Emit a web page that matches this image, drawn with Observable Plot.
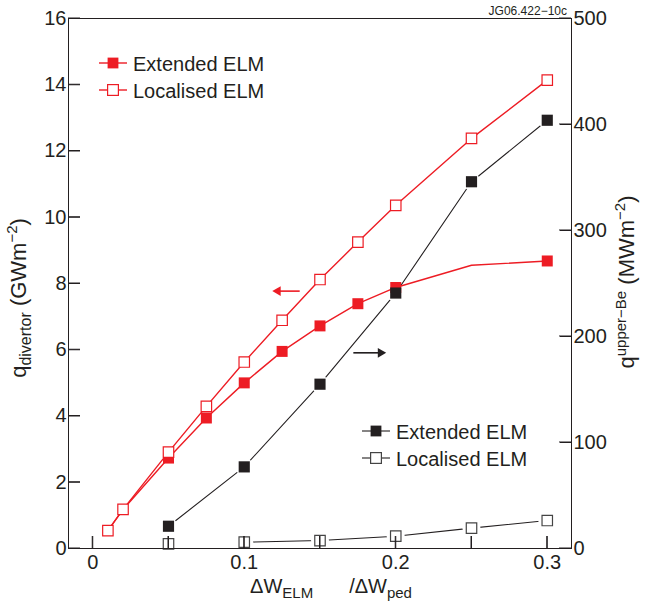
<!DOCTYPE html>
<html><head><meta charset="utf-8">
<script src="https://cdn.jsdelivr.net/npm/d3@7"></script>
<script src="https://cdn.jsdelivr.net/npm/@observablehq/plot@0.6"></script>
<style>body{margin:0;background:#fff} svg{display:block}</style>
</head><body><div id="chart"></div>
<script>
// ---- data ----
const xRed = [0.01, 0.02, 0.05, 0.075, 0.1, 0.125, 0.15, 0.175, 0.2, 0.25, 0.3];
const redLocalised = [0.54, 1.18, 2.91, 4.29, 5.63, 6.89, 8.12, 9.25, 10.36, 12.38, 14.14];
const redExtended  = [0.54, 1.18, 2.73, 3.94, 5.0, 5.95, 6.72, 7.39, 7.88, 8.55, 8.68];
const redExtendedMarked = [false, false, true, true, true, true, true, true, true, false, true];
const xBe = [0.05, 0.1, 0.15, 0.2, 0.25, 0.3];
const beExtended  = [21, 77, 155, 241, 346, 404];          // MWm^-2 (right axis)
const beLocalised = [4.4, 6, 7.5, 11.6, 19.2, 26.4];       // MWm^-2 (right axis)
const beLocalisedLinked = [false, true, true, true, true, true];
const leftTicks  = [0, 2, 4, 6, 8, 10, 12, 14, 16];
const rightTicks = [0, 100, 200, 300, 400, 500];
const xTicks = [0, 0.05, 0.1, 0.15, 0.2, 0.25, 0.3];
const xTickLabels = ["0", "", "0.1", "", "0.2", "", "0.3"];
const seriesNames = ["Extended ELM", "Localised ELM"];
// annotation arrows: shaft start, head centre, level (left units / right units)
const arrowRed   = {x1: 0.1366, x2: 0.1222, yLeft: 7.77, dir: -90};
const arrowBlack = {x1: 0.172, x2: 0.190, yRight: 184.6, dir: 90};

const RED = "#ed1c24", BLACK = "#231f20";
const K = 16 / 500; // right-axis units -> left-axis units
const TICK = 12;

const redExtRows = xRed.map((x, i) => ({x, y: redExtended[i], m: redExtendedMarked[i]}));
const redLocRows = xRed.map((x, i) => ({x, y: redLocalised[i]}));
const beExtRows = xBe.map((x, i) => ({x, y: beExtended[i] * K}));
const beLocRows = xBe.map((x, i) => ({x, y: beLocalised[i] * K, l: beLocalisedLinked[i]}));
const rightTicksL = rightTicks.map(t => t * K);
const arrowRows = [
  {x1: arrowRed.x1, x2: arrowRed.x2, y: arrowRed.yLeft, c: RED, r: arrowRed.dir},
  {x1: arrowBlack.x1, x2: arrowBlack.x2, y: arrowBlack.yRight * K, c: BLACK, r: arrowBlack.dir}
];
const noText = () => "";

const svg = Plot.plot({
  width: 648, height: 604,
  marginLeft: 68, marginRight: 77, marginTop: 18, marginBottom: 56,
  style: {fontFamily: "'Liberation Sans', Arial, Helvetica, sans-serif", fontSize: "20px", color: BLACK, background: "#fff", overflow: "visible"},
  x: {domain: [-0.016, 0.316]},
  y: {domain: [0, 16]},
  marks: [
    // black (right axis) lines
    Plot.line(beExtRows, {x: "x", y: "y", stroke: BLACK, strokeWidth: 1.1}),
    Plot.line(beLocRows.filter(d => d.l), {x: "x", y: "y", stroke: BLACK, strokeWidth: 1.1}),
    // white halos producing the gaps of the black lines
    Plot.dot([...beExtRows, ...beLocRows], {x: "x", y: "y", r: 9, fill: "white", stroke: null}),
    // red (left axis) lines
    Plot.line(redExtRows, {x: "x", y: "y", stroke: RED, strokeWidth: 1.4}),
    Plot.line(redLocRows, {x: "x", y: "y", stroke: RED, strokeWidth: 1.4}),
    Plot.dot(redExtRows.filter(d => d.m), {x: "x", y: "y", symbol: "square", r: 6.2, fill: RED, stroke: null}),
    Plot.dot(redLocRows, {x: "x", y: "y", symbol: "square", r: 5.9, fill: "white", stroke: RED, strokeWidth: 1.2}),
    Plot.dot(beExtRows, {x: "x", y: "y", symbol: "square", r: 6.3, fill: BLACK, stroke: null}),
    Plot.dot(beLocRows, {x: "x", y: "y", symbol: "square", r: 5.9, fill: "white", stroke: "#444", strokeWidth: 1.2}),
    // arrows
    Plot.link(arrowRows, {x1: "x1", x2: "x2", y1: "y", y2: "y", stroke: "c", strokeWidth: 1.6}),
    Plot.dot(arrowRows, {x: "x2", y: "y", symbol: "triangle", r: 3.6, fill: "c", stroke: null, rotate: "r"}),
    // inward ticks (axis tick marks shifted into the frame)
    Plot.axisY(leftTicks, {anchor: "left", tickSize: TICK, dx: TICK, tickFormat: noText, label: null}),
    Plot.axisY(rightTicksL, {anchor: "right", tickSize: TICK, dx: -TICK, tickFormat: noText, label: null}),
    Plot.axisX(xTicks, {anchor: "bottom", tickSize: TICK, dy: -TICK, tickFormat: noText, label: null}),
    // tick labels
    Plot.axisY(leftTicks, {anchor: "left", tickSize: 0, tickPadding: 2, label: null}),
    Plot.axisY(rightTicksL, {anchor: "right", tickSize: 0, tickPadding: 2, label: null,
      tickFormat: d => String(Math.round(d / K))}),
    Plot.axisX(xTicks, {anchor: "bottom", tickSize: 0, tickPadding: 6, label: null,
      tickFormat: d => xTickLabels[xTicks.findIndex(t => Math.abs(t - d) < 1e-9)]}),
    Plot.frame({stroke: BLACK, strokeWidth: 1})
  ]
});
document.getElementById("chart").appendChild(svg);

// ---- inward ticks, also placed with the plot's own scales ----
const sx = svg.scale("x"), sy = svg.scale("y");
const x0 = sx.apply(sx.domain[0]), x1 = sx.apply(sx.domain[1]);
const yb = sy.apply(sy.domain[0]);
const tg = d3.select(svg).append("g").attr("stroke", BLACK).attr("stroke-width", 1).attr("fill", "none");
leftTicks.forEach(t => { const y = sy.apply(t); tg.append("path").attr("d", `M${x0},${y}h${TICK}`); });
rightTicksL.forEach(t => { const y = sy.apply(t); tg.append("path").attr("d", `M${x1},${y}h${-TICK}`); });
xTicks.forEach(t => { const x = sx.apply(t); tg.append("path").attr("d", `M${x},${yb}v${-TICK}`); });

// ---- legends, titles (text with sub/superscripts) ----
const g = d3.select(svg).append("g")
  .attr("font-family", "'Liberation Sans', Arial, Helvetica, sans-serif")
  .attr("fill", BLACK).attr("text-anchor", "start");

function legend(lx, ly, color, openStroke) {
  seriesNames.forEach((name, i) => {
    const y = ly + i * 27;
    g.append("line").attr("x1", lx).attr("x2", lx + 28).attr("y1", y).attr("y2", y)
      .attr("stroke", color).attr("stroke-width", color === RED ? 1.4 : 1.1);
    const s = 10.8;
    const r = g.append("rect").attr("x", lx + 14 - s / 2).attr("y", y - s / 2).attr("width", s).attr("height", s);
    if (i === 0) r.attr("fill", color);
    else r.attr("fill", "white").attr("stroke", openStroke).attr("stroke-width", 1.2);
    g.append("text").attr("x", lx + 34).attr("y", y + 8).attr("font-size", 20).attr("text-anchor", "start").text(name);
  });
}
legend(99, 63, RED, RED);
legend(362, 431, BLACK, "#444");

// left title
const lt = g.append("text").attr("transform", "translate(26,298) rotate(-90)").attr("text-anchor", "middle").attr("font-size", 22);
lt.append("tspan").text("q");
lt.append("tspan").attr("font-size", 16).attr("dy", 5).text("divertor");
lt.append("tspan").attr("dy", -5).text(" (GWm");
lt.append("tspan").attr("font-size", 15).attr("dy", -9).text("−2");
lt.append("tspan").attr("dy", 9).text(")");

// right title
const rt = g.append("text").attr("transform", "translate(634,282) rotate(-90)").attr("text-anchor", "middle").attr("font-size", 22);
rt.append("tspan").text("q");
rt.append("tspan").attr("font-size", 15).attr("dy", -8).text("upper−Be");
rt.append("tspan").attr("dy", 8).text(" (MWm");
rt.append("tspan").attr("font-size", 15).attr("dy", -9).text("−2");
rt.append("tspan").attr("dy", 9).text(")");

// bottom title
const bt = g.append("text").attr("x", 331).attr("y", 593).attr("text-anchor", "middle").attr("font-size", 20);
bt.append("tspan").text("ΔW");
bt.append("tspan").attr("font-size", 15).attr("dy", 5).text("ELM");
bt.append("tspan").attr("dy", -5).attr("dx", 36).text("/ΔW");
bt.append("tspan").attr("font-size", 15).attr("dy", 5).text("ped");

// figure id
g.append("text").attr("x", 567).attr("y", 15).attr("text-anchor", "end").attr("font-size", 12).text("JG06.422−10c");
</script>
</body></html>
